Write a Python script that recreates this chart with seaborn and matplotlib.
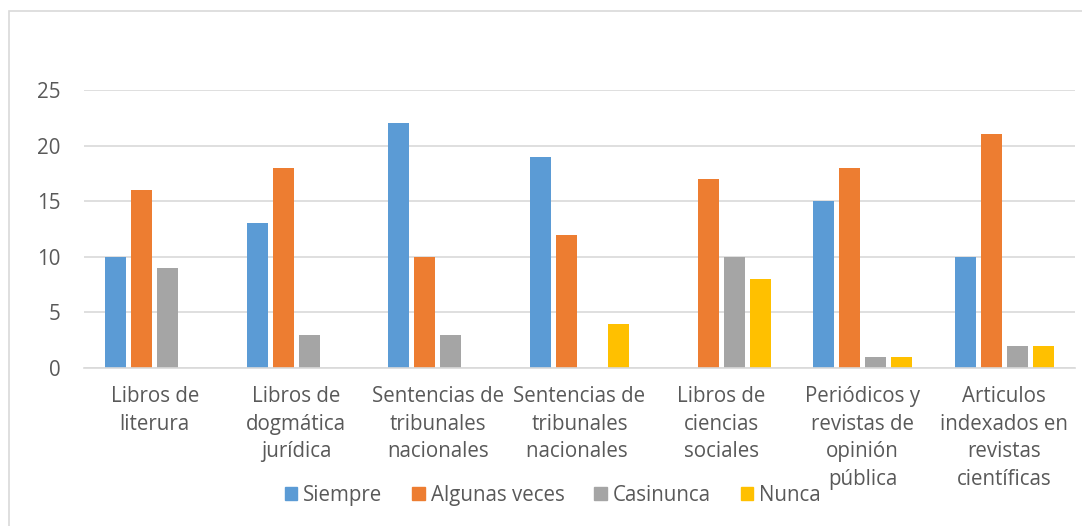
import pandas as pd
import matplotlib.pyplot as plt
import seaborn as sns
from matplotlib.patches import Rectangle

categories = [
    "Libros de\nliterura",
    "Libros de\ndogmática\njurídica",
    "Sentencias de\ntribunales\nnacionales",
    "Sentencias de\ntribunales\nnacionales ",
    "Libros de\nciencias\nsociales",
    "Periódicos y\nrevistas de\nopinión\npública",
    "Articulos\nindexados en\nrevistas\ncientíficas",
]
series = ["Siempre", "Algunas veces", "Casinunca", "Nunca"]
siempre = [10, 13, 22, 19, 0, 15, 10]
algunas = [16, 18, 10, 12, 17, 18, 21]
casinunca = [9, 3, 3, 0, 10, 1, 2]
nunca = [0, 0, 0, 4, 8, 1, 2]
colors = ["#5B9BD5", "#ED7D31", "#A5A5A5", "#FFC000"]

rows = []
for name, vals in zip(series, [siempre, algunas, casinunca, nunca]):
    for cat, v in zip(categories, vals):
        rows.append({"cat": cat, "serie": name, "valor": v})
df = pd.DataFrame(rows)

sns.set_style("white")
plt.rcParams["font.family"] = ["Open Sans", "DejaVu Sans"]
text_color = "#595959"
fs = 14.8

fig = plt.figure(figsize=(10.82, 5.26), dpi=100)
ax = fig.add_axes([84 / 1082, 1 - 368 / 526, (1075 - 84) / 1082, (368 - 90) / 526])

sns.barplot(data=df, x="cat", y="valor", hue="serie", palette=colors,
            width=0.735, gap=0.19, ax=ax, legend=False, saturation=1, linewidth=0)

ax.set_ylim(0, 25)
ax.set_yticks([0, 5, 10, 15, 20, 25])
ax.set_xlim(-0.5, len(categories) - 0.5)
ax.yaxis.grid(True, color="#D9D9D9", linewidth=1.2)
ax.set_axisbelow(True)
for s in ["top", "right", "left"]:
    ax.spines[s].set_visible(False)
ax.spines["bottom"].set_color("#D9D9D9")
ax.spines["bottom"].set_linewidth(1.2)
ax.set_xlabel("")
ax.set_ylabel("")
ax.tick_params(axis="both", length=0, labelsize=fs, colors=text_color)
ax.tick_params(axis="x", pad=13)
ax.tick_params(axis="y", pad=17)
for lbl in ax.get_xticklabels():
    lbl.set_linespacing(1.42)

handles = [Rectangle((0, 0), 1, 1, color=c) for c in colors]
fig.legend(handles, series, loc="center", bbox_to_anchor=(0.511, 0.058), ncol=4,
           frameon=False, fontsize=fs, labelcolor=text_color,
           handlelength=0.6, handleheight=0.6, handletextpad=0.3, columnspacing=1.45)

fig.patches.append(Rectangle((9 / 1082, -0.02), 1.0, 1 - 11 / 526 + 0.02,
                             transform=fig.transFigure, fill=False,
                             edgecolor="#D9D9D9", linewidth=1.2))

fig.savefig("out.png", dpi=100)
plt.close()
